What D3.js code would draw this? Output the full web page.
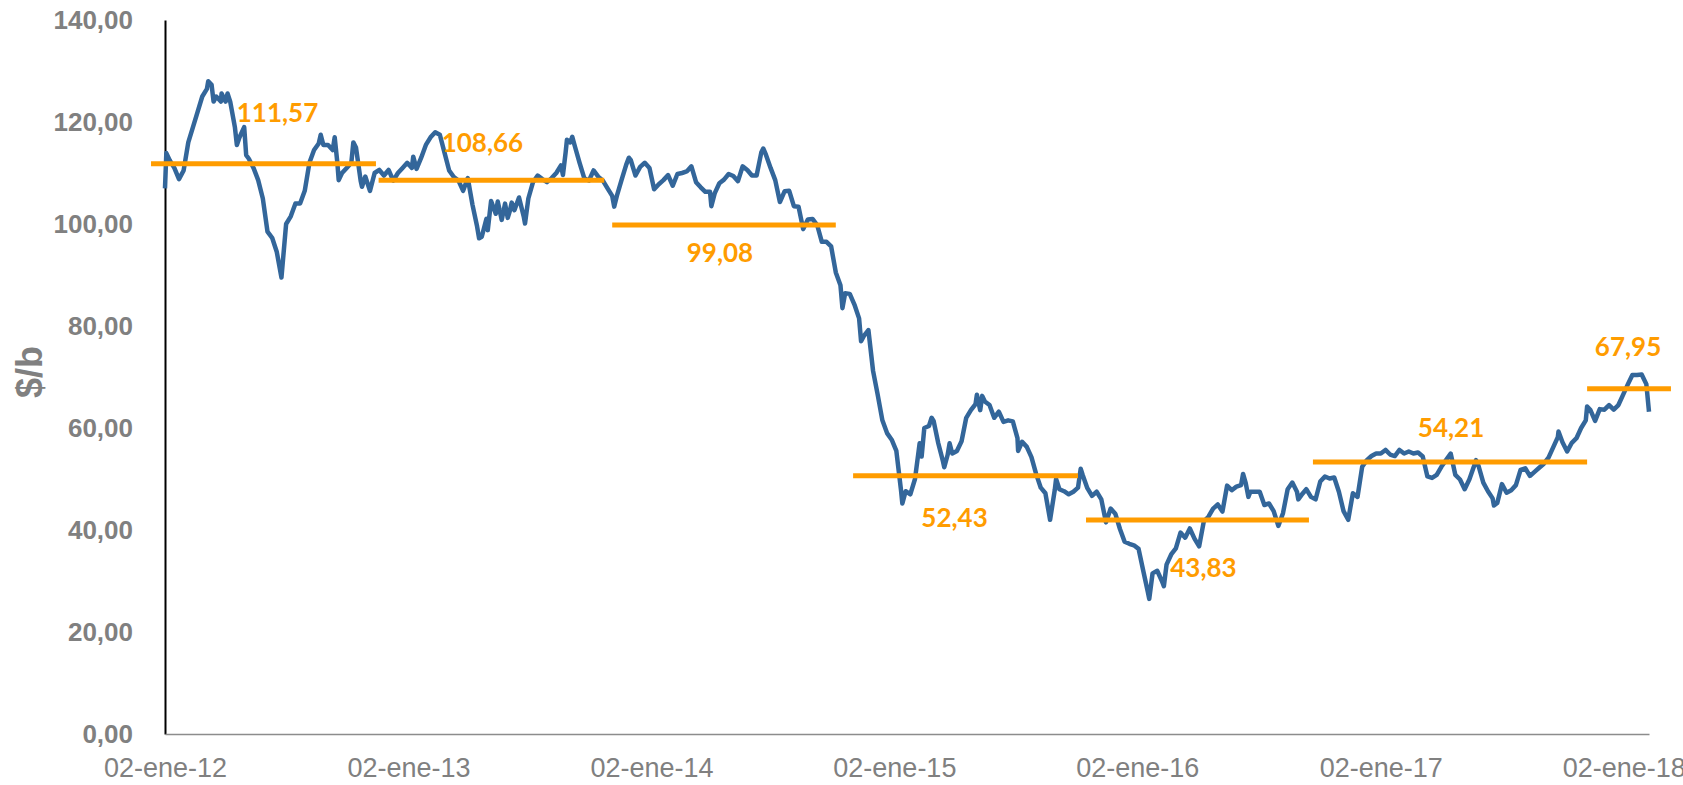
<!DOCTYPE html>
<html>
<head>
<meta charset="utf-8">
<script src="https://cdn.jsdelivr.net/npm/d3@7"></script>
<style>
  body { margin: 0; background: #fff; }
  .chart svg { display: block; }
</style>
</head>
<body>
<div class="chart"></div>
<script>
// weekly Brent readings, one array of dates and one of prices per year
var weeks2012 = ["2012-01-02","2012-01-09","2012-01-16","2012-01-23","2012-01-30","2012-02-06","2012-02-13","2012-02-20","2012-02-27","2012-03-05","2012-03-12","2012-03-19","2012-03-26","2012-04-02","2012-04-09","2012-04-16","2012-04-23","2012-04-30","2012-05-07","2012-05-14","2012-05-21","2012-05-28","2012-06-04","2012-06-11","2012-06-18","2012-06-25","2012-07-02","2012-07-09","2012-07-16","2012-07-23","2012-07-30","2012-08-06","2012-08-13","2012-08-20","2012-08-27","2012-09-03","2012-09-10","2012-09-17","2012-09-24","2012-10-01","2012-10-08","2012-10-15","2012-10-22","2012-10-29","2012-11-05","2012-11-12","2012-11-19","2012-11-26","2012-12-03","2012-12-10","2012-12-17","2012-12-24","2012-12-31"];
var brent2012 = [107, 112.5, 111, 108.8, 110.5, 116, 119, 122, 125, 126.5, 127.3, 125, 124, 124, 124, 119, 117, 119, 112.8, 111, 108.6, 105, 98.5, 97.3, 94.5, 89.5, 100, 101.5, 104, 104, 106.5, 112, 114.5, 115.8, 115.5, 115.5, 114.5, 112, 110, 111, 112, 115, 108.5, 109.3, 106.5, 110, 110.6, 109.5, 110.6, 108.5, 110, 111, 112];

var weeks2013 = ["2013-01-07","2013-01-14","2013-01-21","2013-01-28","2013-02-04","2013-02-11","2013-02-18","2013-02-25","2013-03-04","2013-03-11","2013-03-18","2013-03-25","2013-04-01","2013-04-08","2013-04-15","2013-04-22","2013-04-29","2013-05-06","2013-05-13","2013-05-20","2013-05-27","2013-06-03","2013-06-10","2013-06-17","2013-06-24","2013-07-01","2013-07-08","2013-07-15","2013-07-22","2013-07-29","2013-08-05","2013-08-12","2013-08-19","2013-08-26","2013-09-02","2013-09-09","2013-09-16","2013-09-23","2013-09-30","2013-10-07","2013-10-14","2013-10-21","2013-10-28","2013-11-04","2013-11-11","2013-11-18","2013-11-25","2013-12-02","2013-12-09","2013-12-16","2013-12-23","2013-12-30"];
var brent2013 = [111, 110.8, 113, 115.5, 117, 118, 117.5, 114, 110.5, 109.2, 108.5, 106.5, 109, 103.8, 99.5, 97.5, 101, 104.5, 102, 102, 104, 102.5, 102.7, 105.2, 101.5, 105, 108.2, 109.5, 108.8, 108.2, 109, 110, 111.5, 114, 116, 115.2, 112, 109, 108.5, 110.5, 109.3, 108.5, 107, 105.5, 105.5, 108.6, 111.6, 112.5, 109.5, 111.2, 112, 111];

var weeks2014 = ["2014-01-06","2014-01-13","2014-01-20","2014-01-27","2014-02-03","2014-02-10","2014-02-17","2014-02-24","2014-03-03","2014-03-10","2014-03-17","2014-03-24","2014-03-31","2014-04-07","2014-04-14","2014-04-21","2014-04-28","2014-05-05","2014-05-12","2014-05-19","2014-05-26","2014-06-02","2014-06-09","2014-06-16","2014-06-23","2014-06-30","2014-07-07","2014-07-14","2014-07-21","2014-07-28","2014-08-04","2014-08-11","2014-08-18","2014-08-25","2014-09-01","2014-09-08","2014-09-15","2014-09-22","2014-09-29","2014-10-06","2014-10-13","2014-10-20","2014-10-27","2014-11-03","2014-11-10","2014-11-17","2014-11-24","2014-12-01","2014-12-08","2014-12-15","2014-12-22","2014-12-29"];
var brent2014 = [106.8, 107.8, 108.6, 109.6, 107.5, 109.8, 110, 110.3, 111.3, 108.2, 107.2, 106.3, 106.3, 106, 108, 108.7, 109.8, 109.4, 108.4, 111.3, 110.6, 109.5, 109.5, 114, 113.6, 111, 108.6, 104.3, 106.4, 106.5, 103.5, 103.4, 99, 100.9, 101, 99.8, 96.5, 96.5, 95.6, 90.5, 88, 86.4, 86.3, 84.2, 81.5, 78, 79.2, 71.2, 66.5, 61.5, 59, 57.7];

var weeks2015 = ["2015-01-05","2015-01-12","2015-01-19","2015-01-26","2015-02-02","2015-02-09","2015-02-16","2015-02-23","2015-03-02","2015-03-09","2015-03-16","2015-03-23","2015-03-30","2015-04-06","2015-04-13","2015-04-20","2015-04-27","2015-05-04","2015-05-11","2015-05-18","2015-05-25","2015-06-01","2015-06-08","2015-06-15","2015-06-22","2015-06-29","2015-07-06","2015-07-13","2015-07-20","2015-07-27","2015-08-03","2015-08-10","2015-08-17","2015-08-24","2015-08-31","2015-09-07","2015-09-14","2015-09-21","2015-09-28","2015-10-05","2015-10-12","2015-10-19","2015-10-26","2015-11-02","2015-11-09","2015-11-16","2015-11-23","2015-11-30","2015-12-07","2015-12-14","2015-12-21","2015-12-28"];
var brent2015 = [55.5, 47.8, 47.6, 47, 50, 57, 60, 60.4, 61.4, 57, 53.5, 54.7, 55, 55.5, 57.4, 62, 63.5, 64.7, 63.5, 65.2, 64.5, 62, 63.2, 61.2, 61.5, 61.3, 58, 57.3, 56.3, 54.3, 51, 48.3, 47.2, 42, 47.8, 48, 47.6, 47, 47.5, 48.3, 50.8, 48.2, 46.7, 47.5, 46, 41.5, 44.2, 43.2, 40.2, 37.7, 37.3, 37];

var weeks2016 = ["2016-01-04","2016-01-11","2016-01-18","2016-01-25","2016-02-01","2016-02-08","2016-02-15","2016-02-22","2016-02-29","2016-03-07","2016-03-14","2016-03-21","2016-03-28","2016-04-04","2016-04-11","2016-04-18","2016-04-25","2016-05-02","2016-05-09","2016-05-16","2016-05-23","2016-05-30","2016-06-06","2016-06-13","2016-06-20","2016-06-27","2016-07-04","2016-07-11","2016-07-18","2016-07-25","2016-08-01","2016-08-08","2016-08-15","2016-08-22","2016-08-29","2016-09-05","2016-09-12","2016-09-19","2016-09-26","2016-10-03","2016-10-10","2016-10-17","2016-10-24","2016-10-31","2016-11-07","2016-11-14","2016-11-21","2016-11-28","2016-12-05","2016-12-12","2016-12-19","2016-12-26"];
var brent2016 = [36.3, 32, 27.8, 31.5, 32, 30, 33.2, 35.2, 36.4, 39.5, 38.5, 40.3, 38.3, 36.8, 41.7, 42.6, 44.2, 45, 43.6, 48.7, 47.8, 48.5, 48.8, 49.2, 47.5, 47.5, 47.5, 44.9, 45.2, 43.7, 40.8, 43.3, 48, 49.3, 47.5, 46.9, 48, 46.5, 46, 49.5, 50.5, 50.1, 50.3, 47.5, 43.7, 42, 47.2, 46.5, 52.4, 53.7, 54.5, 55];

var weeks2017 = ["2017-01-02","2017-01-09","2017-01-16","2017-01-23","2017-01-30","2017-02-06","2017-02-13","2017-02-20","2017-02-27","2017-03-06","2017-03-13","2017-03-20","2017-03-27","2017-04-03","2017-04-10","2017-04-17","2017-04-24","2017-05-01","2017-05-08","2017-05-15","2017-05-22","2017-05-29","2017-06-05","2017-06-12","2017-06-19","2017-06-26","2017-07-03","2017-07-10","2017-07-17","2017-07-24","2017-07-31","2017-08-07","2017-08-14","2017-08-21","2017-08-28","2017-09-04","2017-09-11","2017-09-18","2017-09-25","2017-10-02","2017-10-09","2017-10-16","2017-10-23","2017-10-30","2017-11-06","2017-11-13","2017-11-20","2017-11-27","2017-12-04","2017-12-11","2017-12-18","2017-12-25"];
var brent2017 = [55, 55.7, 54.8, 54.5, 55.7, 55, 55.4, 55, 55.2, 54.4, 50.5, 50.2, 50.8, 52.4, 53.7, 55, 50.8, 49.9, 48, 49.9, 52.5, 52.5, 49.3, 47.6, 46.2, 45.3, 49, 47.3, 47.8, 48.8, 51.8, 52.1, 50.6, 51.4, 52.2, 53, 54.2, 56.2, 58.2, 57.2, 55.4, 57.1, 58, 60, 61.5, 63.5, 61.4, 63.7, 63.6, 64.5, 63.6, 64.5];

var weeks2018 = ["2018-01-01","2018-01-08","2018-01-15","2018-01-22","2018-01-29","2018-02-05","2018-02-09"];
var brent2018 = [66.5, 68.5, 70.4, 70.4, 70.5, 68.6, 63.2];

// extra mid-week readings at the sharper spikes and dips
var midDates2012 = ["2012-01-04","2012-03-07","2012-03-15","2012-03-27","2012-04-05","2012-04-19","2012-05-03","2012-08-23","2012-09-13","2012-09-19","2012-10-11","2012-10-24"];
var midBrent2012 = [113.9, 128, 124, 125.6, 125.6, 115.5, 113.5, 117.5, 117, 108.6, 116, 107.3];
var midDates2013 = ["2013-01-09","2013-04-18","2013-05-01","2013-05-16","2013-05-22","2013-05-31","2013-06-06","2013-06-26","2013-08-22","2013-08-28","2013-09-05","2013-11-07","2013-11-29"];
var midBrent2013 = [113.2, 97.2, 98.8, 104.4, 100.8, 101.2, 104.2, 100.1, 109.6, 116.5, 117.1, 103.4, 113];
var midDates2014 = ["2014-04-02","2014-06-19","2014-10-16","2014-11-13"];
var midBrent2014 = [103.5, 114.8, 83.5, 77];
var midDates2015 = ["2015-01-14","2015-02-12","2015-02-27","2015-03-18","2015-03-26","2015-05-06","2015-05-14","2015-07-07","2015-09-02","2015-10-09"];
var midBrent2015 = [45.2, 54.4, 62, 52.3, 57, 66.5, 66.3, 55.5, 50, 52];
var midDates2016 = ["2016-01-20","2016-02-11","2016-06-09","2016-06-17","2016-08-31"];
var midBrent2016 = [26.5, 29, 51, 46.5, 46];
var midDates2017 = ["2017-05-25","2017-06-21","2017-09-26","2017-11-08"];
var midBrent2017 = [53.7, 44.8, 59.3, 64.2];

// yearly averages: where each orange bar starts / ends, its level and its label
var avgStart = ["2011-12-12","2012-11-18","2013-11-04","2014-11-01","2015-10-17","2016-09-22","2017-11-08"];
var avgEnd = ["2012-11-14","2013-10-23","2014-10-06","2015-10-05","2016-09-16","2017-11-08","2018-03-14"];
var avgLevel = [111.8, 108.6, 99.8, 50.65, 41.96, 53.35, 67.7];
var avgLabel = ["111,57", "108,66", "99,08", "52,43", "43,83", "54,21", "67,95"];

var yTicks = [0, 20, 40, 60, 80, 100, 120, 140];
var xTickDates = ["2012-01-02","2013-01-02","2014-01-02","2015-01-02","2016-01-02","2017-01-02","2018-01-02"];
var yTitle = "$/b";

// label offsets (px) from the middle of each orange bar
var labelShift = [[14, -51], [-9, -38], [-4, 28], [-11, 42], [6, 48], [1, -34], [-1, -42]];

var svgWidth = 1683;
var svgHeight = 785;
var margin = { top: 20, right: 34, bottom: 51, left: 165 };

var parseDate = d3.timeParse("%Y-%m-%d");

var esTime = d3.timeFormatLocale({
  dateTime: "%A, %e de %B de %Y, %X", date: "%d/%m/%Y", time: "%H:%M:%S",
  periods: ["AM", "PM"],
  days: ["domingo","lunes","martes","miércoles","jueves","viernes","sábado"],
  shortDays: ["dom","lun","mar","mié","jue","vie","sáb"],
  months: ["enero","febrero","marzo","abril","mayo","junio","julio","agosto","septiembre","octubre","noviembre","diciembre"],
  shortMonths: ["ene","feb","mar","abr","may","jun","jul","ago","sep","oct","nov","dic"]
});
var esNum = d3.formatLocale({ decimal: ",", thousands: ".", grouping: [3], currency: ["", " $"] });

// put the years together into one series, sorted by date
var allDates = [weeks2012, weeks2013, weeks2014, weeks2015, weeks2016, weeks2017, weeks2018,
  midDates2012, midDates2013, midDates2014, midDates2015, midDates2016, midDates2017];
var allPrices = [brent2012, brent2013, brent2014, brent2015, brent2016, brent2017, brent2018,
  midBrent2012, midBrent2013, midBrent2014, midBrent2015, midBrent2016, midBrent2017];
var brentData = [];
allDates.forEach(function(w, i) {
  w.forEach(function(d, j) {
    brentData.push({ date: parseDate(d), price: allPrices[i][j] });
  });
});
brentData.sort(function(a, b) { return a.date - b.date; });

var averages = avgLevel.map(function(v, i) {
  return { start: parseDate(avgStart[i]), end: parseDate(avgEnd[i]), level: v, label: avgLabel[i], shift: labelShift[i] };
});

var svg = d3.select(".chart")
  .append("svg")
  .attr("width", svgWidth)
  .attr("height", svgHeight);

var x = d3.scaleTime()
  .domain(d3.extent(brentData, function(d) { return d.date; }))
  .range([margin.left, svgWidth - margin.right]);

var y = d3.scaleLinear()
  .domain([0, 140])
  .range([svgHeight - margin.bottom, margin.top]);

// y axis
var yAxis = svg.append("g")
  .attr("transform", "translate(" + margin.left + ",0)")
  .call(d3.axisLeft(y).tickValues(yTicks).tickSize(0).tickPadding(32).tickFormat(esNum.format(".2f")));
yAxis.select(".domain").attr("stroke", "#000").attr("stroke-width", 2);
yAxis.selectAll("text")
  .style("font-family", "'Liberation Sans', Arial, sans-serif")
  .style("font-size", "26px")
  .style("font-weight", "bold")
  .attr("fill", "#808080");

// x axis
var xAxis = svg.append("g")
  .attr("transform", "translate(0," + y(0) + ")")
  .call(d3.axisBottom(x).tickValues(xTickDates.map(parseDate)).tickSize(0).tickPadding(24).tickFormat(esTime.format("%d-%b-%y")));
xAxis.select(".domain").attr("stroke", "#8c8c8c").attr("stroke-width", 1.5);
xAxis.selectAll("text")
  .style("font-family", "'Liberation Sans', Arial, sans-serif")
  .style("font-size", "27px")
  .attr("fill", "#808080");

svg.append("text")
  .attr("transform", "translate(29," + (y(70) - 5) + ") rotate(-90)")
  .attr("text-anchor", "middle")
  .attr("dy", "0.35em")
  .style("font-family", "'Liberation Sans', Arial, sans-serif")
  .style("font-size", "36px")
  .style("font-weight", "bold")
  .attr("fill", "#808080")
  .text(yTitle);

// price line
var line = d3.line()
  .x(function(d) { return x(d.date); })
  .y(function(d) { return y(d.price); });

svg.append("path")
  .datum(brentData)
  .attr("fill", "none")
  .attr("stroke", "#33669a")
  .attr("stroke-width", 4.5)
  .attr("stroke-linejoin", "round")
  .attr("d", line);

// yearly average bars
svg.selectAll(".avg")
  .data(averages)
  .enter()
  .append("line")
  .attr("class", "avg")
  .attr("x1", function(d) { return x(d.start); })
  .attr("x2", function(d) { return x(d.end); })
  .attr("y1", function(d) { return y(d.level); })
  .attr("y2", function(d) { return y(d.level); })
  .attr("stroke", "#ff9c00")
  .attr("stroke-width", 5);

svg.selectAll(".avg-label")
  .data(averages)
  .enter()
  .append("text")
  .attr("class", "avg-label")
  .attr("x", function(d) { return (x(d.start) + x(d.end)) / 2 + d.shift[0]; })
  .attr("y", function(d) { return y(d.level) + d.shift[1]; })
  .attr("dy", "0.36em")
  .attr("text-anchor", "middle")
  .style("font-family", "Lato, 'Open Sans', sans-serif")
  .style("font-size", "26px")
  .style("font-weight", "bold")
  .attr("fill", "#ff9c00")
  .text(function(d) { return d.label; });
</script>
</body>
</html>
